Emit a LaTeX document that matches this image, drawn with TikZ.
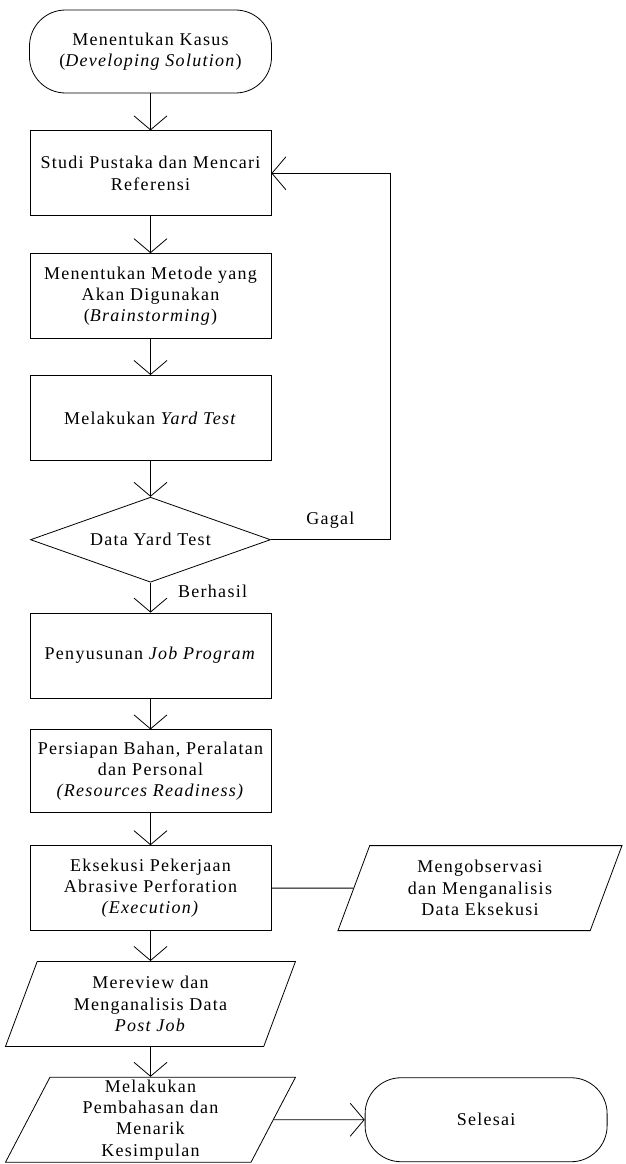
\documentclass[tikz,border=0pt]{standalone}
\usepackage{fontspec}
\setmainfont{Liberation Serif}[LetterSpace=7]
\usepackage{tikz}
\usetikzlibrary{positioning,quotes,shapes.geometric,arrows.meta}
\pgfdeclarelayer{nodelayer}
\pgfdeclarelayer{edgelayer}
\pgfsetlayers{main,nodelayer,edgelayer}
\tikzstyle{every node}=[font=\fontsize{18pt}{21.3pt}\selectfont]
\tikzstyle{terminal}=[fill=white, draw=black, line width=0.8pt, rectangle, rounded corners=36pt, minimum width=242pt, minimum height=83pt, align=center]
\tikzstyle{proc}=[fill=white, draw=black, line width=0.8pt, rectangle, minimum width=241pt, minimum height=85pt, align=center]
\tikzstyle{decision}=[fill=white, draw=black, line width=0.8pt, diamond, aspect=2.8, inner sep=0pt, minimum width=240pt, minimum height=85pt, align=center]
\tikzstyle{inout}=[fill=white, draw=black, line width=0.8pt, trapezium, trapezium left angle=61, trapezium right angle=119, trapezium stretches body, inner sep=1pt, minimum width=290pt, minimum height=85pt, align=center]
\tikzstyle{flow_edge}=[-{Straight Barb[length=14pt, width=33pt]}, draw=black, line width=0.8pt]
\tikzstyle{plain_edge}=[-, draw=black, line width=0.8pt]

\begin{document}
\begin{tikzpicture}
        \useasboundingbox (0,0) rectangle (625pt,-1164pt);
        \begin{pgfonlayer}{nodelayer}
            \node[style=terminal] (start) at (150.5pt,-51.5pt) {Menentukan Kasus\\(\textit{Developing Solution})};
            \node[style=proc, below=37pt of start] (studi) {Studi Pustaka dan Mencari\\Referensi};
            \node[style=proc, below=37pt of studi] (metode) {Menentukan Metode yang\\Akan Digunakan\\(\textit{Brainstorming})};
            \node[style=proc, below=36pt of metode] (yard) {Melakukan \textit{Yard Test}};
            \node[style=decision, below=36pt of yard] (dec) {Data Yard Test};
            \node[style=proc, below=30pt of dec] (job) {Penyusunan \textit{Job Program}};
            \node[style=proc, minimum height=83pt, below=31pt of job] (siap) {Persiapan Bahan, Peralatan\\dan Personal\\\textit{(Resources Readiness)}};
            \node[style=proc, below=32pt of siap] (eks) {Eksekusi Pekerjaan\\Abrasive Perforation\\\textit{(Execution)}};
            \node[style=inout, minimum width=284pt, right=82pt of eks] (obs) {Mengobservasi\\dan Menganalisis\\Data Eksekusi};
            \node[style=inout, below=30pt of eks] (review) {Mereview dan\\Menganalisis Data\\\textit{Post Job}};
            \node[style=inout, inner ysep=0pt, below=30pt of review] (simpul) {Melakukan\\Pembahasan dan\\Menarik\\Kesimpulan};
            \node[style=terminal, minimum height=84pt, right=91pt of simpul] (selesai) {Selesai};
        \end{pgfonlayer}
        \begin{pgfonlayer}{edgelayer}
            \draw[style={flow_edge}] (start) to (studi);
            \draw[style={flow_edge}] (studi) to (metode);
            \draw[style={flow_edge}] (metode) to (yard);
            \draw[style={flow_edge}] (yard) to (dec);
            \draw[style={flow_edge}] (dec) to["Berhasil" {pos=0.3, right=24pt}] (job);
            \draw[style={flow_edge}] (dec.east) -- ++(119pt,0) node[midway, above=8pt] {Gagal} |- (studi.east);
            \draw[style={flow_edge}] (job) to (siap);
            \draw[style={flow_edge}] (siap) to (eks);
            \draw[style={plain_edge}] (eks) to (obs);
            \draw[style={flow_edge}] (eks) to (review);
            \draw[style={flow_edge}] (review) to (simpul);
            \draw[style={flow_edge}] (simpul) to (selesai);
        \end{pgfonlayer}
    \end{tikzpicture}
\end{document}
